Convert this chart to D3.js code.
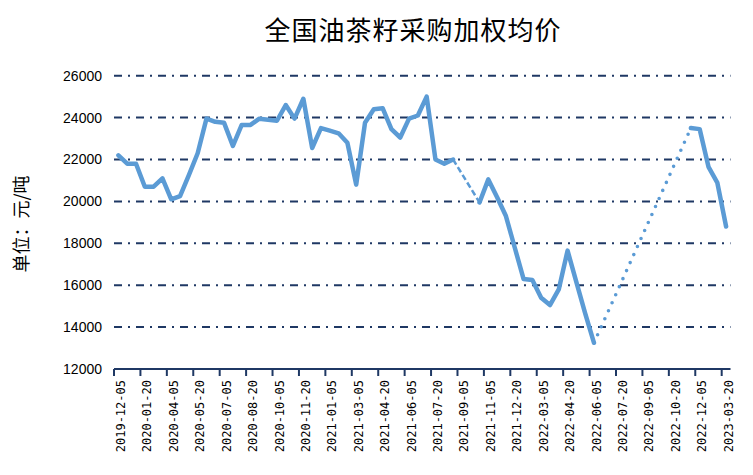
<!DOCTYPE html>
<html><head><meta charset="utf-8">
<script src="https://cdn.jsdelivr.net/npm/d3@7/dist/d3.min.js"></script>
<style>body{margin:0;background:#fff}svg{display:block}</style>
</head><body>
<svg id="chart" width="753" height="475"></svg>
<script>
// ---- data ----
const titleText = "全国油茶籽采购加权均价";
const yTitleText = "单位：元/吨";
const tickLabels = ["2019-12-05","2020-01-20","2020-04-05","2020-05-20","2020-07-05","2020-08-20",
  "2020-10-05","2020-11-20","2021-01-05","2021-03-05","2021-04-20","2021-06-05","2021-07-20",
  "2021-09-05","2021-11-05","2021-12-20","2022-03-05","2022-04-20","2022-06-05","2022-07-20",
  "2022-09-05","2022-10-20","2022-12-05","2023-03-20"];
const labelEvery = 3;
// price per category (null = no observation; gaps are bridged by connector lines)
const prices = [22200,21800,21800,20700,20700,21100,20100,20250,21250,22300,
  23950,23800,23750,22650,23650,23650,23950,23900,23850,24600,
  23950,24900,22550,23500,23380,23250,22800,20800,23750,24400,
  24450,23450,23050,23950,24100,25000,22000,21800,22000,null,
  null,19950,21050,20200,19300,17800,16300,16250,15400,15050,
  15800,17650,16150,14650,13250,null,null,null,null,null,
  null,null,null,null,null,23500,23450,21650,20900,18800];
const categories = prices.map((_, i) => i % labelEvery === 0 ? tickLabels[i / labelEvery] : "");
const gapStyles = ["dash", "dot"];
const yTicks = [12000,14000,16000,18000,20000,22000,24000,26000];

// ---- drawing ----
(function () {
const svg = d3.select("#chart");
const mLeft = 114, mRight = 730.5, mTop = 75.7, mBottom = 369;
const x = d3.scaleBand().domain(d3.range(prices.length)).range([mLeft, mRight]).padding(0);
const y = d3.scaleLinear().domain([12000, 26000]).range([mBottom, mTop]);
const blue = "#5B9BD5", navy = "#1F3864";

// gridlines
svg.append("g").selectAll("line").data(yTicks.filter(v => v > 12000)).join("line")
  .attr("x1", mLeft).attr("x2", mRight)
  .attr("y1", d => y(d)).attr("y2", d => y(d))
  .attr("stroke", navy).attr("stroke-width", 2).attr("stroke-dasharray", "8,6,2,6");

// y axis labels
const yAxis = d3.axisLeft(y).tickValues(yTicks).tickSize(0).tickPadding(0).tickFormat(d3.format("d"));
const gy = svg.append("g").attr("transform", `translate(102,0)`).call(yAxis);
gy.select(".domain").remove();
gy.selectAll("text").attr("font-family", "Liberation Sans, Arial, sans-serif").attr("font-size", 14).attr("fill", "#000");

// x axis
const tickIdx = d3.range(0, prices.length, labelEvery);
const xAxis = d3.axisBottom(x).tickValues(tickIdx).tickSize(7).tickFormat("");
const gx = svg.append("g").attr("transform", `translate(0,${mBottom})`).call(xAxis);
gx.select(".domain").attr("d", `M${mLeft},0H${mRight}`).attr("stroke", navy).attr("stroke-width", 2);
gx.selectAll(".tick").attr("transform", d => `translate(${x(d)},0)`);
gx.selectAll(".tick line").attr("stroke", navy).attr("stroke-width", 2);
gx.selectAll(".tick").append("text")
  .attr("transform", "translate(7,11) rotate(-90)")
  .attr("text-anchor", "end").attr("dominant-baseline", "central")
  .attr("font-family", "DejaVu Sans Mono, monospace").attr("font-size", 12).attr("fill", "#000")
  .text(d => categories[d]);

// series
const pts = prices.map((v, i) => ({i, v}));
const cx = d => x(d.i) + x.bandwidth() / 2;
const line = d3.line().defined(d => d.v !== null).x(cx).y(d => y(d.v));
svg.append("path").datum(pts).attr("d", line)
  .attr("fill", "none").attr("stroke", blue).attr("stroke-width", 4.5)
  .attr("stroke-linejoin", "round").attr("stroke-linecap", "round");

// gap connectors
const defined = pts.filter(d => d.v !== null);
const gaps = [];
for (let k = 1; k < defined.length; k++) {
  if (defined[k].i - defined[k - 1].i > 1) gaps.push([defined[k - 1], defined[k]]);
}
gaps.forEach((g, k) => {
  const style = gapStyles[k];
  const p = svg.append("path").attr("d", d3.line().x(cx).y(d => y(d.v))(g))
    .attr("fill", "none").attr("stroke", blue);
  if (style === "dash") p.attr("stroke-width", 2.5).attr("stroke-dasharray", "6,3");
  else p.attr("stroke-width", 3.6).attr("stroke-linecap", "round").attr("stroke-dasharray", "0,8.8");
});

// titles
svg.append("text").attr("x", 413).attr("y", 40).attr("text-anchor", "middle")
  .attr("font-family", "Noto Sans CJK SC, sans-serif").attr("font-size", 26).attr("letter-spacing", 1)
  .attr("fill", "#000").text(titleText);
svg.append("text").attr("transform", "translate(20,224) rotate(-90)")
  .attr("text-anchor", "middle").attr("dominant-baseline", "central")
  .attr("font-family", "Noto Sans CJK SC, sans-serif").attr("font-size", 18)
  .attr("fill", "#000").text(yTitleText);
})();
</script>
</body></html>
